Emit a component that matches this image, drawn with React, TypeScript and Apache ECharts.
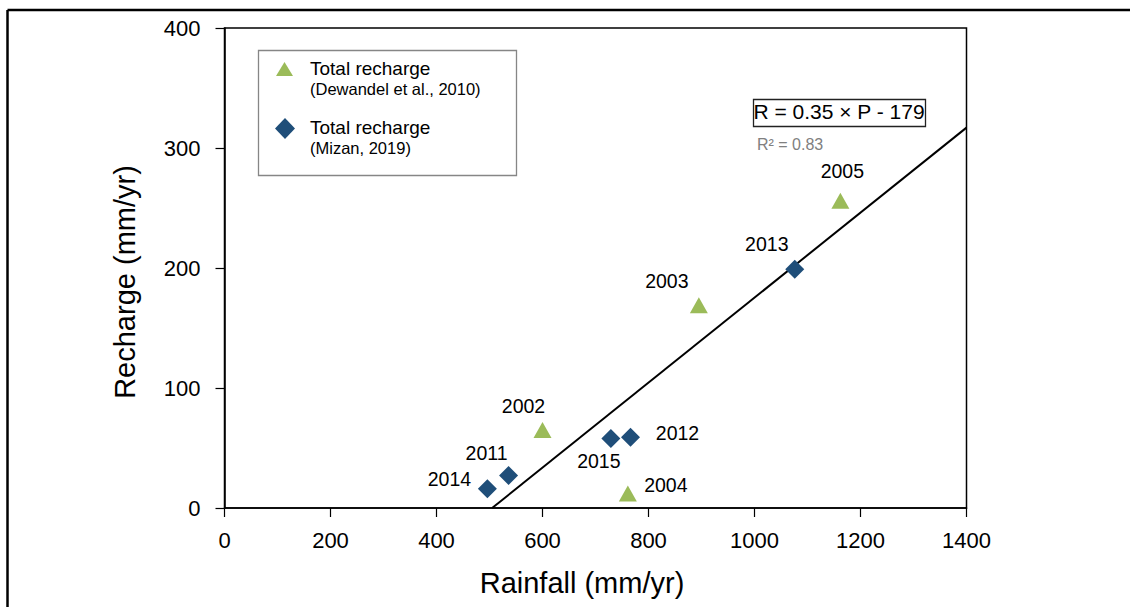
import React, { useEffect, useRef } from "react";
import * as echarts from "echarts";

// Total recharge (Dewandel et al., 2010)
const dewandelYears = ["2002", "2003", "2004", "2005"];
const dewandelRain = [600, 895, 761, 1162];
const dewandelRecharge = [65, 169, 12, 256];

// Total recharge (Mizan, 2019)
const mizanYears = ["2011", "2012", "2013", "2014", "2015"];
const mizanRain = [536, 766, 1076, 496, 729];
const mizanRecharge = [27, 59, 199, 16, 58];

// Regression line R = 0.35 x P - 179 (as drawn)
const trendRain = [505, 1400];
const trendRecharge = [0, 317];

const xTicks = [0, 200, 400, 600, 800, 1000, 1200, 1400];
const yTicks = [0, 100, 200, 300, 400];

const labelOffsets: Record<string, [number, number]> = {
  "2002": [-19, -24],
  "2003": [-32, -24],
  "2004": [38, -9],
  "2005": [2, -30],
  "2011": [-22, -23],
  "2012": [47, -4],
  "2013": [-28, -25],
  "2014": [-38, -10],
  "2015": [-12, 23],
};

const GREEN = "#9BBB59";
const BLUE = "#1F4E79";
const SANS = '"Liberation Sans", Arial, sans-serif';

function pointData(years: string[], xs: number[], ys: number[]) {
  return years.map((yr, i) => ({
    name: yr,
    value: [xs[i], ys[i]],
    label: {
      show: true,
      position: "inside",
      offset: labelOffsets[yr],
      formatter: yr,
      color: "#000",
      opacity: 1,
      textBorderWidth: 0,
      fontSize: 19.5,
      fontFamily: SANS,
    },
  }));
}

export default function App() {
  const ref = useRef<HTMLDivElement>(null);
  useEffect(() => {
    if (!ref.current) return;
    const chart = echarts.init(ref.current, undefined, { renderer: "svg" });
    chart.setOption({
      animation: false,
      backgroundColor: "#fff",
      grid: {
        left: 224.5,
        top: 28,
        width: 742,
        height: 480,
        show: true,
        borderColor: "#000",
        borderWidth: 1.5,
        containLabel: false,
      },
      xAxis: {
        type: "value",
        min: xTicks[0],
        max: xTicks[xTicks.length - 1],
        interval: 200,
        axisLine: { show: true, lineStyle: { color: "#000", width: 1.5 } },
        axisTick: { show: true, inside: false, length: 9, lineStyle: { color: "#000", width: 1.2 } },
        splitLine: { show: false },
        axisLabel: { color: "#000", fontSize: 22, fontFamily: SANS, margin: 21, formatter: (v: number) => String(v) },
      },
      yAxis: {
        type: "value",
        min: yTicks[0],
        max: yTicks[yTicks.length - 1],
        interval: 100,
        axisLine: { show: true, lineStyle: { color: "#000", width: 1.5 } },
        axisTick: { show: true, inside: false, length: 9, lineStyle: { color: "#000", width: 1.2 } },
        splitLine: { show: false },
        axisLabel: { color: "#000", fontSize: 22, fontFamily: SANS, margin: 24, formatter: (v: number) => String(v) },
      },
      series: [
        {
          type: "line",
          name: "Trend",
          data: trendRain.map((x, i) => [x, trendRecharge[i]]),
          showSymbol: false,
          symbol: "none",
          lineStyle: { color: "#000", width: 2 },
          z: 1,
          clip: true,
        },
        {
          type: "scatter",
          name: "Total recharge (Dewandel et al., 2010)",
          symbol: "triangle",
          symbolSize: [18, 16],
          itemStyle: { color: GREEN, opacity: 1 },
          emphasis: { disabled: true },
          data: pointData(dewandelYears, dewandelRain, dewandelRecharge),
          z: 3,
        },
        {
          type: "scatter",
          name: "Total recharge (Mizan, 2019)",
          symbol: "diamond",
          symbolSize: [19, 19],
          itemStyle: { color: BLUE, opacity: 1 },
          emphasis: { disabled: true },
          data: pointData(mizanYears, mizanRain, mizanRecharge),
          z: 3,
        },
      ],
      graphic: [
        // outer frame (top and left)
        { type: "line", shape: { x1: 7.5, y1: 10, x2: 1130, y2: 10 }, style: { stroke: "#000", lineWidth: 2.5 } },
        { type: "line", shape: { x1: 7.5, y1: 10, x2: 7.5, y2: 607 }, style: { stroke: "#000", lineWidth: 2.5 } },
        // axis titles
        {
          type: "text",
          x: 582,
          y: 583,
          style: { text: "Rainfall (mm/yr)", fill: "#000", font: `29px ${SANS}`, align: "center", verticalAlign: "middle" },
        },
        {
          type: "text",
          x: 125,
          y: 282,
          rotation: Math.PI / 2,
          style: { text: "Recharge (mm/yr)", fill: "#000", font: `29px ${SANS}`, align: "center", verticalAlign: "middle" },
        },
        // legend
        {
          type: "rect",
          shape: { x: 258.5, y: 50.5, width: 258, height: 125 },
          style: { fill: "#fff", stroke: "#868686", lineWidth: 1.3 },
          z: 10,
        },
        {
          type: "polygon",
          shape: { points: [[284.5, 62], [293, 76], [276, 76]] },
          style: { fill: GREEN },
          z: 11,
        },
        {
          type: "polygon",
          shape: { points: [[285, 118], [295, 128.5], [285, 139], [275, 128.5]] },
          style: { fill: BLUE },
          z: 11,
        },
        {
          type: "text",
          x: 310,
          y: 68.5,
          z: 11,
          style: { text: "Total recharge", fill: "#000", font: `19px ${SANS}`, verticalAlign: "middle" },
        },
        {
          type: "text",
          x: 310,
          y: 89,
          z: 11,
          style: { text: "(Dewandel et al., 2010)", fill: "#000", font: `16.5px ${SANS}`, verticalAlign: "middle" },
        },
        {
          type: "text",
          x: 310,
          y: 127,
          z: 11,
          style: { text: "Total recharge", fill: "#000", font: `19px ${SANS}`, verticalAlign: "middle" },
        },
        {
          type: "text",
          x: 310,
          y: 148,
          z: 11,
          style: { text: "(Mizan, 2019)", fill: "#000", font: `16.5px ${SANS}`, verticalAlign: "middle" },
        },
        // equation box
        {
          type: "rect",
          shape: { x: 753.5, y: 99.5, width: 172, height: 27 },
          style: { fill: "#fff", stroke: "#222", lineWidth: 1.3 },
          z: 10,
        },
        {
          type: "text",
          x: 839,
          y: 111.5,
          z: 11,
          style: { text: "R = 0.35 × P - 179", fill: "#000", font: `21px ${SANS}`, align: "center", verticalAlign: "middle" },
        },
        {
          type: "text",
          x: 757,
          y: 144,
          z: 11,
          style: { text: "R² = 0.83", fill: "#808080", font: `16px ${SANS}`, verticalAlign: "middle" },
        },
      ],
    });
    return () => chart.dispose();
  }, []);
  return (
    <div
      ref={ref}
      style={{ position: "fixed", left: 0, top: 0, width: 1130, height: 607, background: "#fff" }}
    />
  );
}
